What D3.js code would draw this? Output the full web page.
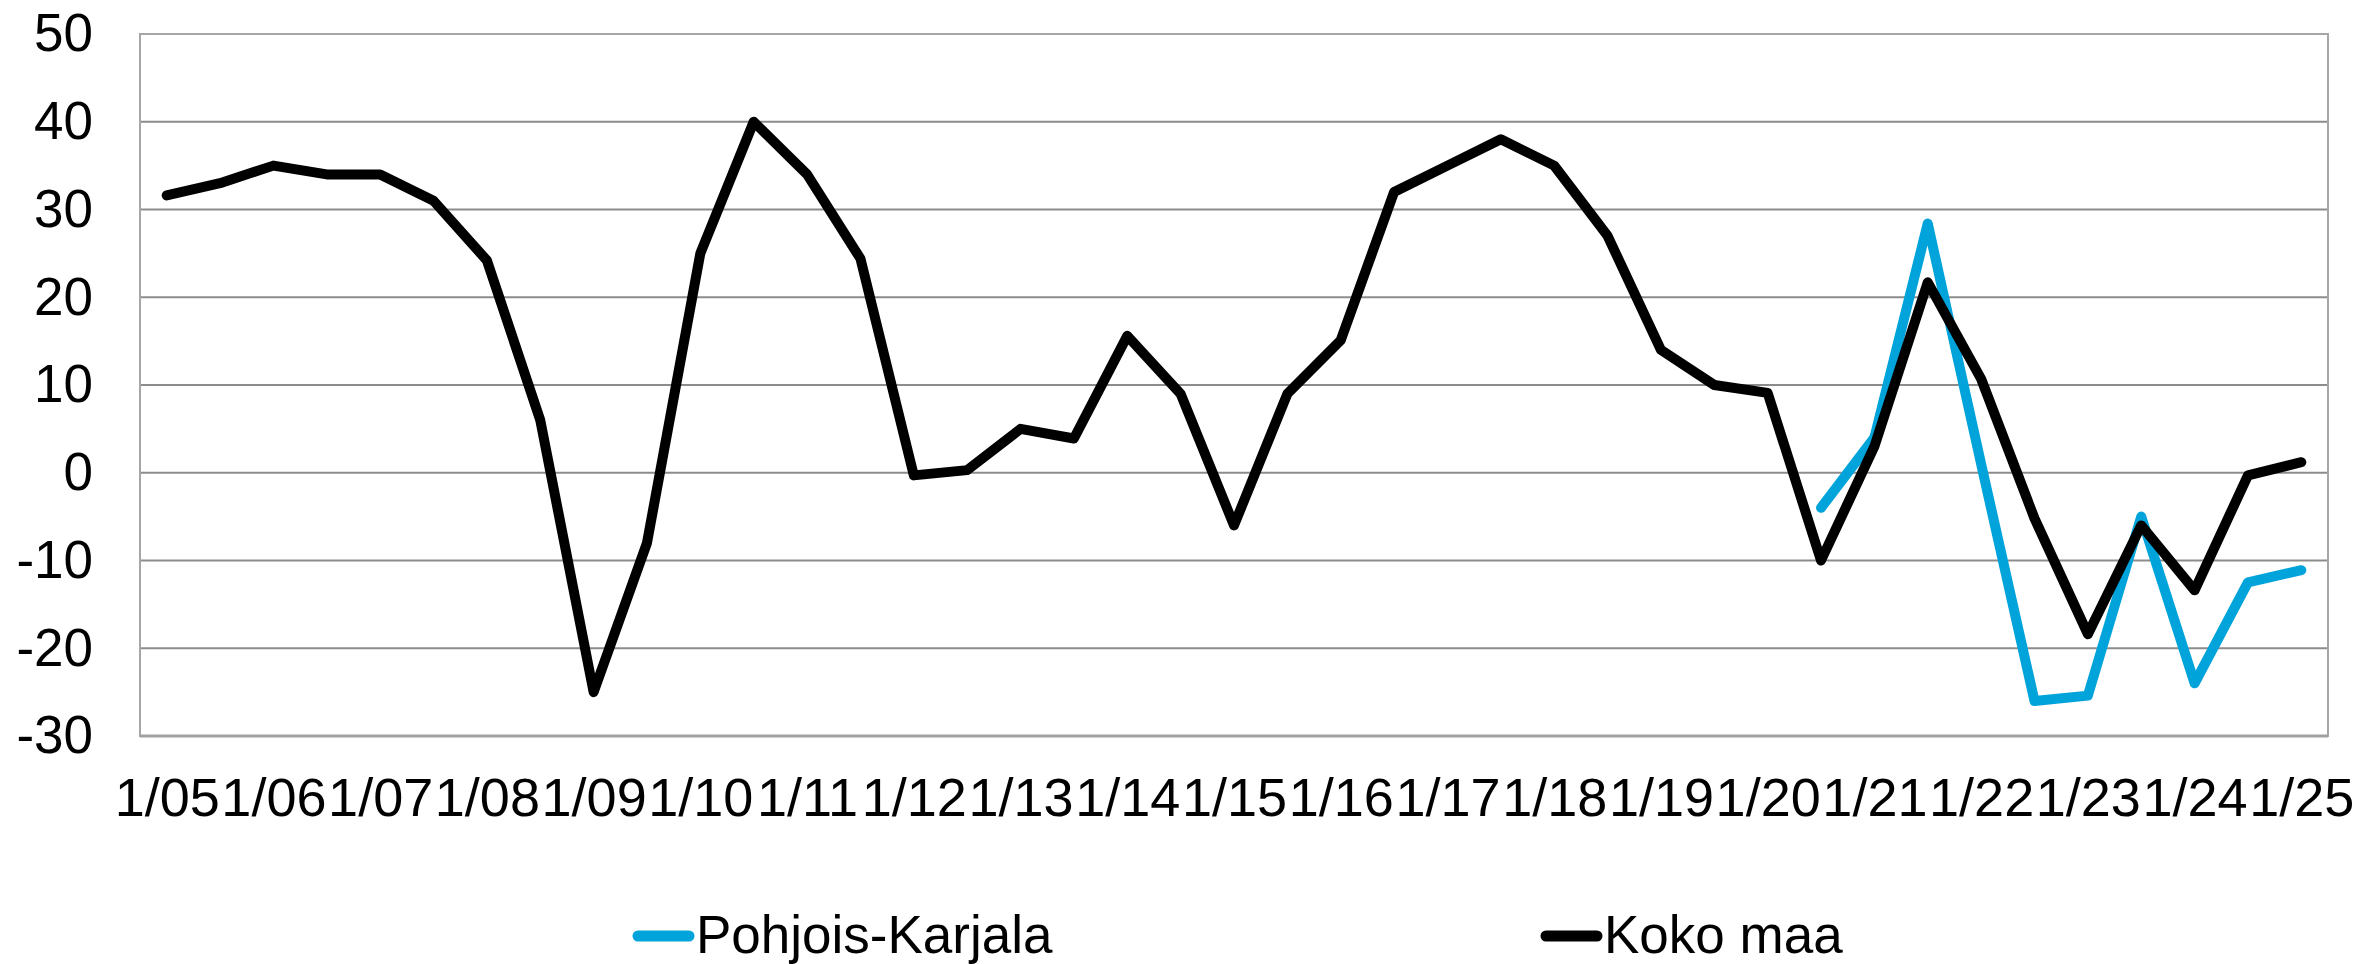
<!DOCTYPE html>
<html>
<head>
<meta charset="utf-8">
<style>
    body { margin: 0; background: #fff; }
    svg { display: block; font-family: 'Liberation Sans', Arial, sans-serif; }
</style>
</head>
<body>
<svg width="2359" height="964"></svg>
<script src="https://d3js.org/d3.v7.min.js"></script>
<script>
// half-year observations, 1/05 ... 1/25
let categories = []
for (let y = 5; y <= 25; y++) {
    let yy = (y < 10 ? "0" : "") + y
    categories.push("1/" + yy)
    if (y < 25) categories.push("7/" + yy)
}
let tickLabels = categories.filter(c => c.startsWith("1/"))
let yTicks = [-30, -20, -10, 0, 10, 20, 30, 40, 50]

let kokoMaa = [31.6, 33, 35, 34, 34, 31, 24.2, 6, -25, -8,
    25, 40, 34, 24.4, -0.3, 0.3, 5, 3.9, 15.6, 9,
    -6, 9, 15.1, 32, 35, 38, 35, 27, 14, 10,
    9.1, -10, 3, 21.7, 10.7, -5.2, -18.4, -6, -13.4, -0.3,
    1.2]
let pohjoisKarjala = [null, null, null, null, null, null, null, null, null, null,
    null, null, null, null, null, null, null, null, null, null,
    null, null, null, null, null, null, null, null, null, null,
    null, -4, 4, 28.4, 1, -26, -25.4, -5, -24, -12.5,
    -11.1]

let seriesNames = ["Pohjois-Karjala", "Koko maa"]
let seriesColors = ["#00a3da", "#000000"]

let svg = d3.select("svg")
let margin = { top: 34, right: 31, bottom: 228, left: 140 }
let width = 2359, height = 964

let x = d3.scalePoint()
    .domain(categories)
    .range([margin.left, width - margin.right])
    .padding(0.5)

let y = d3.scaleLinear()
    .domain([-30, 50])
    .range([height - margin.bottom, margin.top])

// gridlines
svg.append("g")
    .selectAll("line")
    .data(yTicks)
    .join("line")
    .attr("x1", margin.left)
    .attr("x2", width - margin.right)
    .attr("y1", d => y(d))
    .attr("y2", d => y(d))
    .attr("stroke", "#8c8c8c")
    .attr("stroke-width", 2)

// plot frame
svg.append("rect")
    .attr("x", margin.left)
    .attr("y", margin.top)
    .attr("width", width - margin.right - margin.left)
    .attr("height", y(-30) - margin.top)
    .attr("fill", "none")
    .attr("stroke", "#a6a6a6")
    .attr("stroke-width", 2)

svg.append("line")
    .attr("x1", margin.left)
    .attr("x2", width - margin.right)
    .attr("y1", y(-30))
    .attr("y2", y(-30))
    .attr("stroke", "#a0a0a0")
    .attr("stroke-width", 3)

// axes
let yAxis = svg.append("g")
    .attr("transform", `translate(${margin.left},0)`)
    .call(d3.axisLeft(y).tickValues(yTicks).tickFormat(d => String(d)).tickSize(0).tickPadding(47))
yAxis.select(".domain").remove()
yAxis.selectAll("text")
    .attr("font-size", 53)
    .attr("font-family", "'Liberation Sans', Arial, sans-serif")
    .attr("fill", "#000")

let xAxis = svg.append("g")
    .attr("transform", `translate(0,${y(-30)})`)
    .call(d3.axisBottom(x).tickValues(tickLabels).tickSize(0).tickPadding(42))
xAxis.select(".domain").remove()
xAxis.selectAll("text")
    .attr("font-size", 54)
    .attr("font-family", "'Liberation Sans', Arial, sans-serif")
    .attr("fill", "#000")

// lines
let line = d3.line()
    .defined(d => d.v != null)
    .x(d => x(d.c))
    .y(d => y(d.v))

let seriesData = [pohjoisKarjala, kokoMaa]
seriesData.forEach((vals, i) => {
    svg.append("path")
        .datum(vals.map((v, j) => ({ c: categories[j], v: v })))
        .attr("d", line)
        .attr("fill", "none")
        .attr("stroke", seriesColors[i])
        .attr("stroke-width", 10)
        .attr("stroke-linecap", "round")
        .attr("stroke-linejoin", "round")
})

// legend
let legendX = [632, 1540]
let legend = svg.append("g")
    .selectAll("g")
    .data(seriesNames)
    .join("g")
    .attr("transform", (d, i) => `translate(${legendX[i]},936)`)

legend.append("line")
    .attr("x1", 6).attr("x2", 57)
    .attr("stroke", (d, i) => seriesColors[i])
    .attr("stroke-width", 11)
    .attr("stroke-linecap", "round")

legend.append("text")
    .attr("x", 64)
    .attr("y", 17)
    .attr("font-size", 53)
    .text(d => d)
</script>
</body>
</html>
